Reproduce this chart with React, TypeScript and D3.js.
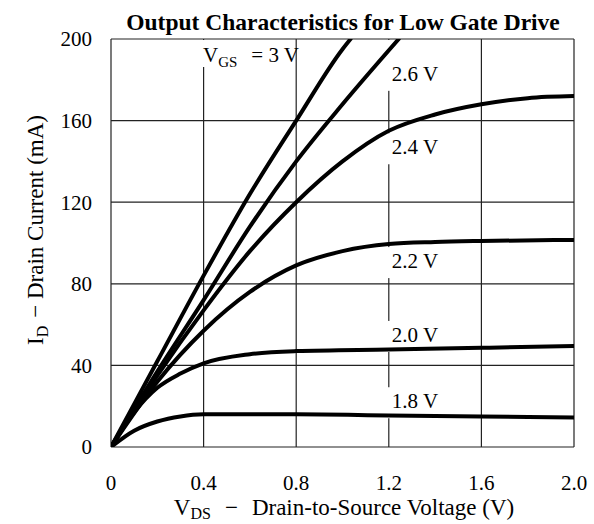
import React from "react";
import * as d3 from "d3";

// tick values
const xTicks = [0, 0.4, 0.8, 1.2, 1.6, 2.0];
const yTicks = [0, 40, 80, 120, 160, 200];

// I_D (mA) vs V_DS (V) for each gate voltage
const vgs30: [number, number][] = [[0, 0], [0.2, 42], [0.4, 84], [0.6, 124], [0.8, 160], [1.0, 195], [1.035, 200]];
const vgs26: [number, number][] = [[0, 0], [0.2, 37], [0.4, 72], [0.6, 108], [0.8, 140], [1.0, 168], [1.243, 200]];
const vgs24: [number, number][] = [[0, 0], [0.2, 35], [0.4, 67], [0.6, 96], [0.8, 120], [1.0, 140], [1.2, 155], [1.4, 163], [1.6, 168], [1.8, 171], [2.0, 172]];
const vgs22: [number, number][] = [[0, 0], [0.2, 32], [0.4, 57], [0.6, 76], [0.8, 89], [1.0, 96], [1.2, 99.5], [1.4, 100.5], [1.6, 101], [2.0, 101.5]];
const vgs20: [number, number][] = [[0, 0], [0.1, 17], [0.2, 29], [0.3, 36], [0.4, 41], [0.6, 45.5], [0.8, 47], [1.2, 47.8], [1.6, 48.6], [2.0, 49.5]];
const vgs18: [number, number][] = [[0, 0], [0.1, 8], [0.2, 12.5], [0.3, 15], [0.4, 16], [0.8, 16], [1.2, 15.5], [1.6, 15], [2.0, 14.5]];

const series = [vgs30, vgs26, vgs24, vgs22, vgs20, vgs18];
const labels = ["2.6 V", "2.4 V", "2.2 V", "2.0 V", "1.8 V"];
// where each label's baseline sits (V, mA)
const labelAt: [number, number][] = [[1.2, 179.5], [1.2, 143.5], [1.2, 87.7], [1.2, 51.5], [1.2, 19]];

const W = 594;
const H = 524;
const margin = { top: 39, right: 20, bottom: 77, left: 111 };
const font = "'Liberation Serif', 'Times New Roman', serif";

export default function App() {
  const x = d3.scaleLinear().domain([0, 2]).range([margin.left, W - margin.right]);
  const y = d3.scaleLinear().domain([0, 200]).range([H - margin.bottom, margin.top]);

  const line = d3.line<[number, number]>()
    .x(d => x(d[0]))
    .y(d => y(d[1]))
    .curve(d3.curveMonotoneX);

  const [x0, x1] = x.range();
  const [y0, y1] = y.range();

  return (
    <svg width={W} height={H} style={{ position: "absolute", left: 0, top: 0, background: "#fff" }} fontFamily={font}>
      <defs>
        <clipPath id="plot">
          <rect x={x0} y={y1} width={x1 - x0} height={y0 - y1} />
        </clipPath>
      </defs>

      <text x={343} y={30} textAnchor="middle" fontSize={23.5} fontWeight="bold">
        Output Characteristics for Low Gate Drive
      </text>

      {/* grid */}
      {xTicks.map(t => (
        <line key={"gx" + t} x1={x(t)} x2={x(t)} y1={y1} y2={y0} stroke="#222" strokeWidth={1.2} />
      ))}
      {yTicks.map(t => (
        <line key={"gy" + t} x1={x0} x2={x1} y1={y(t)} y2={y(t)} stroke="#222" strokeWidth={1.2} />
      ))}

      {/* white gaps behind the curve labels */}
      <rect x={199} y={y1 + 1} width={92} height={27} fill="#fff" />
      {labels.map((l, i) => {
        const by = y(labelAt[i][1]);
        const top = i === 0 ? y1 + 1 : by - 21;
        return <rect key={"bg" + l} x={x(labelAt[i][0]) - 4} y={top} width={60} height={by + 10 - top} fill="#fff" />;
      })}

      {/* curves */}
      <g clipPath="url(#plot)">
        {series.map((s, i) => (
          <path key={i} d={line(s) || ""} fill="none" stroke="#000" strokeWidth={4} strokeLinejoin="round" strokeLinecap="round" />
        ))}
      </g>

      {/* curve labels */}
      <text x={203} y={62} fontSize={21}>
        V<tspan fontSize={15} dy={5}>GS</tspan>
        <tspan dx={14} dy={-5}>= 3 V</tspan>
      </text>
      {labels.map((l, i) => (
        <text key={l} x={x(labelAt[i][0]) + 3} y={y(labelAt[i][1])} fontSize={21}>{l}</text>
      ))}

      {/* tick labels */}
      {xTicks.map(t => (
        <text key={"tx" + t} x={x(t)} y={490} textAnchor="middle" fontSize={21}>
          {t === 0 ? "0" : t.toFixed(1)}
        </text>
      ))}
      {yTicks.map(t => (
        <text key={"ty" + t} x={92} y={y(t)} dy="0.35em" textAnchor="end" fontSize={21}>{t}</text>
      ))}

      {/* axis titles */}
      <text x={344} y={515} textAnchor="middle" fontSize={23}>
        V<tspan fontSize={16} dy={4}>DS</tspan>
        <tspan dx={14} dy={-4}>−</tspan>
        <tspan dx={14}>Drain-to-Source Voltage (V)</tspan>
      </text>
      <text transform="translate(43,230) rotate(-90)" textAnchor="middle" fontSize={23}>
        I<tspan fontSize={16} dy={5}>D</tspan>
        <tspan dx={8} dy={-5}>− Drain Current (mA)</tspan>
      </text>
    </svg>
  );
}
